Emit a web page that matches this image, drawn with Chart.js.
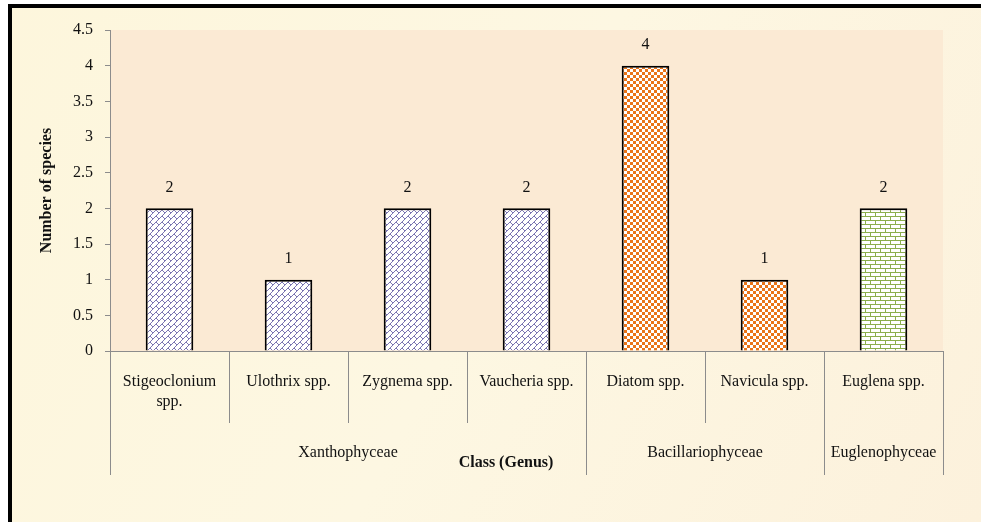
<!DOCTYPE html>
<html>
<head>
<meta charset="utf-8">
<script src="https://cdn.jsdelivr.net/npm/chart.js@4/dist/chart.umd.min.js"></script>
<style>
  body { margin: 0; background: #fff; }
  #wrap { position: relative; width: 981px; height: 522px; }
</style>
</head>
<body>
<div id="wrap"><canvas id="myChart"></canvas></div>
<script>
// genus labels (x categories), counts and the class each genus belongs to
const genusLabels = [['Stigeoclonium', 'spp.'], 'Ulothrix spp.', 'Zygnema spp.', 'Vaucheria spp.', 'Diatom spp.', 'Navicula spp.', 'Euglena spp.'];
const speciesCounts = [2, 1, 2, 2, 4, 1, 2];
const classNames = ['Xanthophyceae', 'Bacillariophyceae', 'Euglenophyceae'];
const classSpans = [4, 2, 1];
const barFillKind = ['brick', 'brick', 'brick', 'brick', 'check', 'check', 'green'];
const yMax = 4.5;
const yStep = 0.5;

const SERIF = '"Liberation Serif", "Times New Roman", serif';

function makeTile(w, h, draw) {
    const c = document.createElement('canvas');
    c.width = w;
    c.height = h;
    const g = c.getContext('2d');
    g.fillStyle = '#ffffff';
    g.fillRect(0, 0, w, h);
    draw(g);
    return document.getElementById('myChart').getContext('2d').createPattern(c, 'repeat');
}

// diagonal brick, purple-blue lines
const brickPattern = makeTile(12, 12, function(g) {
    g.strokeStyle = '#7a75b2';
    g.lineWidth = 1;
    const segs = [
        [-6, 12, 12, -6], [0, 18, 18, 0], [-12, 12, 12, -12], [0, 24, 24, 0],
        [0, 0, 3, 3], [6, 0, 9, 3], [6, 6, 9, 9], [0, 6, 3, 9]
    ];
    for (const s of segs) {
        for (const dx of [-12, 0, 12]) {
            for (const dy of [-12, 0, 12]) {
                g.beginPath();
                g.moveTo(s[0] + dx, s[1] + dy);
                g.lineTo(s[2] + dx, s[3] + dy);
                g.stroke();
            }
        }
    }
});

// orange checkerboard
const checkPattern = makeTile(6, 6, function(g) {
    g.fillStyle = '#ea7418';
    g.fillRect(0, 0, 3, 3);
    g.fillRect(3, 3, 3, 3);
});

// green horizontal brick
const greenPattern = makeTile(10, 8, function(g) {
    g.fillStyle = '#8cae4c';
    g.fillRect(0, 0, 10, 1);
    g.fillRect(0, 4, 10, 1);
    g.fillRect(0, 0, 1, 4);
    g.fillRect(5, 4, 1, 4);
});

const fills = barFillKind.map(k => k === 'brick' ? brickPattern : (k === 'check' ? checkPattern : greenPattern));

const backgroundPlugin = {
    id: 'background',
    beforeDraw(chart) {
        const ctx = chart.ctx;
        const area = chart.chartArea;
        ctx.save();
        const grad = ctx.createLinearGradient(0, 0, 981, 522);
        grad.addColorStop(0, '#fdf6dc');
        grad.addColorStop(0.5, '#fdf7e2');
        grad.addColorStop(1, '#fcf1dc');
        ctx.fillStyle = grad;
        ctx.fillRect(8, 4, chart.width - 8, chart.height - 4);
        ctx.fillStyle = '#fbead4';
        ctx.fillRect(area.left, area.top, area.right - area.left, area.bottom - area.top);
        // black frame top and left
        ctx.fillStyle = '#000000';
        ctx.fillRect(8, 4, chart.width - 8, 4);
        ctx.fillRect(8, 4, 4, chart.height - 4);
        ctx.restore();
    }
};

const categoryAxisPlugin = {
    id: 'categoryAxis',
    afterDraw(chart) {
        const ctx = chart.ctx;
        const area = chart.chartArea;
        const step = (area.right - area.left) / genusLabels.length;
        const bottom = area.bottom;
        ctx.save();
        ctx.strokeStyle = '#8c8c8c';
        ctx.lineWidth = 1;
        // boundaries where a class starts/ends get long dividers
        const longAt = [0];
        let acc = 0;
        classSpans.forEach(s => { acc += s; longAt.push(acc); });
        for (let i = 0; i <= genusLabels.length; i++) {
            const x = Math.round(area.left + i * step) + 0.5;
            const end = longAt.includes(i) ? bottom + 124 : bottom + 72;
            ctx.beginPath();
            ctx.moveTo(x, bottom);
            ctx.lineTo(x, end);
            ctx.stroke();
        }
        ctx.fillStyle = '#111111';
        ctx.font = '16px ' + SERIF;
        ctx.textAlign = 'center';
        ctx.textBaseline = 'middle';
        let start = 0;
        classNames.forEach((name, i) => {
            const x0 = area.left + start * step;
            const x1 = area.left + (start + classSpans[i]) * step;
            ctx.fillText(name, (x0 + x1) / 2, bottom + 102);
            start += classSpans[i];
        });
        ctx.font = 'bold 16px ' + SERIF;
        ctx.fillText('Class (Genus)', 506, bottom + 112);
        ctx.restore();
    }
};

const valueLabelPlugin = {
    id: 'valueLabels',
    afterDatasetsDraw(chart) {
        const ctx = chart.ctx;
        const meta = chart.getDatasetMeta(0);
        ctx.save();
        ctx.fillStyle = '#111111';
        ctx.font = '16px ' + SERIF;
        ctx.textAlign = 'center';
        ctx.textBaseline = 'middle';
        meta.data.forEach((bar, i) => {
            ctx.fillText(String(speciesCounts[i]), bar.x, bar.y - 21);
        });
        ctx.restore();
    }
};

new Chart(document.getElementById('myChart'), {
    type: 'bar',
    data: {
        labels: genusLabels,
        datasets: [{
            label: 'Number of species',
            data: speciesCounts,
            backgroundColor: fills,
            borderColor: '#000000',
            borderWidth: 2,
            categoryPercentage: 1,
            barPercentage: 0.4
        }]
    },
    options: {
        responsive: true,
        maintainAspectRatio: false,
        animation: false,
        layout: { padding: { left: 12, right: 38, top: 30, bottom: 0 } },
        plugins: {
            legend: { display: false },
            tooltip: { enabled: false }
        },
        scales: {
            x: {
                afterFit(scale) { scale.height = 171; },
                grid: { drawOnChartArea: false, drawTicks: false, color: '#8c8c8c' },
                border: { color: '#8c8c8c', width: 1 },
                ticks: {
                    color: '#111111',
                    font: { family: SERIF, size: 16, lineHeight: 1.25 },
                    padding: 21,
                    maxRotation: 0,
                    autoSkip: false
                }
            },
            y: {
                min: 0,
                max: yMax,
                afterFit(scale) { scale.width = 98; },
                grid: { drawOnChartArea: false, drawTicks: true, tickLength: 5, color: '#8c8c8c' },
                border: { color: '#8c8c8c', width: 1 },
                ticks: {
                    stepSize: yStep,
                    color: '#111111',
                    padding: 12,
                    font: { family: SERIF, size: 16 },
                    callback: v => String(v)
                },
                title: {
                    display: true,
                    text: 'Number of species',
                    color: '#111111',
                    padding: { top: 25, bottom: 0 },
                    font: { family: SERIF, size: 16, weight: 'bold' }
                }
            }
        }
    },
    plugins: [backgroundPlugin, categoryAxisPlugin, valueLabelPlugin]
});
</script>
</body>
</html>
